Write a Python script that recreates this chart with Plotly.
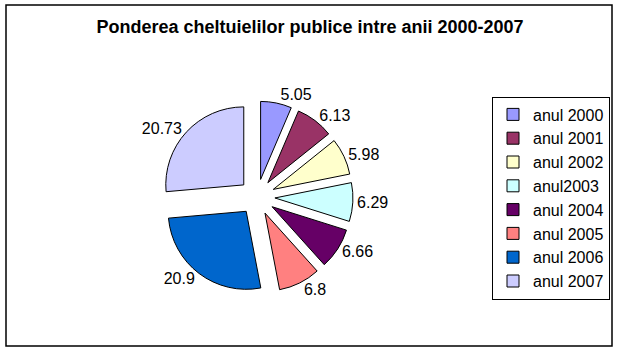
import plotly.graph_objects as go

labels = ["anul 2000", "anul 2001", "anul 2002", "anul2003", "anul 2004", "anul 2005", "anul 2006", "anul 2007"]
values = [5.05, 6.13, 5.98, 6.29, 6.66, 6.8, 20.9, 20.73]
colors = ["#9999FF", "#993366", "#FFFFCC", "#CCFFFF", "#660066", "#FF8080", "#0066CC", "#CCCCFF"]

W, H = 620, 353
cx, cy, r, pull = 257, 197, 78, 0.23
half = r * (1 + pull)

fig = go.Figure(go.Pie(
    labels=labels, values=values, sort=False, direction="clockwise", rotation=0,
    marker=dict(colors=colors, line=dict(color="black", width=1)),
    pull=[pull] * len(values),
    textinfo="value", textposition="outside",
    textfont=dict(family="Liberation Sans, Arial", size=16, color="black"),
    domain=dict(x=[(cx - half) / W, (cx + half) / W], y=[(H - cy - half) / H, (H - cy + half) / H]),
    hoverinfo="label+value",
))

fig.update_layout(
    width=W, height=H, margin=dict(l=0, r=0, t=0, b=0),
    paper_bgcolor="white",
    title=dict(text="<b>Ponderea cheltuielilor publice intre anii 2000-2007</b>",
               x=0.5, xanchor="center", y=1 - 27 / H, yanchor="middle",
               font=dict(family="Liberation Sans, Arial", size=18, color="black")),
    legend=dict(x=610 / W, xanchor="right", y=1 - 198 / H, yanchor="middle",
                bordercolor="black", borderwidth=1, bgcolor="white",
                font=dict(family="Liberation Sans, Arial", size=16, color="black"),
                itemwidth=30, tracegroupgap=0),
    shapes=[dict(type="rect", xref="paper", yref="paper",
                 x0=6 / W, x1=612 / W, y0=1 - 346 / H, y1=1 - 5 / H,
                 line=dict(color="black", width=1.5))],
)

fig.write_html("out.html")
